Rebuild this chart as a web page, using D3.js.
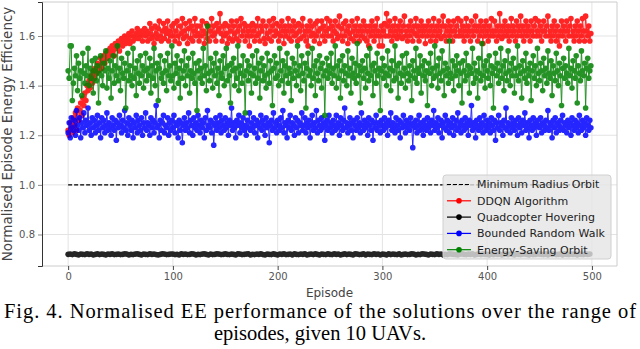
<!DOCTYPE html>
<html lang="en">
<head>
<meta charset="UTF-8">
<title>Normalised EE performance</title>
<script src="https://d3js.org/d3.v7.min.js"></script>
<style>
  body { margin: 0; background: #fff; }
  svg { display: block; }
</style>
</head>
<body>
<svg width="640" height="349"></svg>
<script>
// one value per episode (0 .. 499)
const episodes = d3.range(0, 500);
const hoverEpisodes = d3.range(0, 500, 2);
const minRadiusOrbit = 1.0;

const ddqn = [
  1.22, 1.20, 1.25, 1.23, 1.21, 1.27, 1.24, 1.29, 1.22, 1.31, 1.26, 1.30, 1.33, 1.28, 1.35, 1.32, 1.37, 1.34, 1.40, 1.38, 1.42, 1.39, 1.44, 1.41, 1.46,
  1.43, 1.47, 1.45, 1.49, 1.46, 1.48, 1.51, 1.47, 1.50, 1.52, 1.49, 1.53, 1.51, 1.54, 1.52, 1.55, 1.53, 1.56, 1.54, 1.52, 1.57, 1.55, 1.56, 1.58, 1.54,
  1.57, 1.59, 1.56, 1.58, 1.60, 1.57, 1.59, 1.58, 1.61, 1.57, 1.60, 1.62, 1.58, 1.60, 1.59, 1.61, 1.63, 1.59, 1.61, 1.60, 1.62, 1.58, 1.61, 1.63, 1.60,
  1.62, 1.58, 1.61, 1.65, 1.59, 1.63, 1.60, 1.57, 1.64, 1.61, 1.59, 1.63, 1.66, 1.60, 1.58, 1.62, 1.65, 1.59, 1.63, 1.61, 1.66, 1.58, 1.62, 1.60, 1.64,
  1.60, 1.65, 1.58, 1.62, 1.66, 1.60, 1.57, 1.64, 1.61, 1.67, 1.59, 1.62, 1.65, 1.60, 1.57, 1.63, 1.66, 1.59, 1.64, 1.58, 1.62, 1.67, 1.60, 1.64, 1.61,
  1.58, 1.64, 1.60, 1.66, 1.62, 1.57, 1.61, 1.65, 1.59, 1.64, 1.58, 1.62, 1.67, 1.60, 1.64, 1.61, 1.58, 1.65, 1.62, 1.63, 1.69, 1.61, 1.58, 1.64, 1.60,
  1.65, 1.61, 1.57, 1.64, 1.59, 1.62, 1.66, 1.58, 1.64, 1.61, 1.59, 1.66, 1.62, 1.58, 1.64, 1.67, 1.60, 1.62, 1.65, 1.58, 1.64, 1.60, 1.62, 1.56, 1.64,
  1.60, 1.65, 1.62, 1.58, 1.64, 1.60, 1.67, 1.61, 1.58, 1.64, 1.62, 1.66, 1.59, 1.57, 1.64, 1.61, 1.59, 1.66, 1.62, 1.58, 1.64, 1.67, 1.60, 1.62, 1.65,
  1.61, 1.58, 1.64, 1.60, 1.66, 1.62, 1.57, 1.64, 1.60, 1.62, 1.67, 1.59, 1.64, 1.58, 1.62, 1.66, 1.60, 1.64, 1.61, 1.58, 1.65, 1.62, 1.59, 1.64, 1.67,
  1.60, 1.62, 1.58, 1.64, 1.56, 1.62, 1.66, 1.60, 1.64, 1.61, 1.58, 1.65, 1.60, 1.66, 1.62, 1.57, 1.63, 1.66, 1.60, 1.64, 1.58, 1.62, 1.67, 1.60, 1.63,
  1.66, 1.60, 1.64, 1.58, 1.62, 1.66, 1.61, 1.59, 1.64, 1.68, 1.60, 1.63, 1.58, 1.65, 1.60, 1.66, 1.62, 1.57, 1.64, 1.61, 1.59, 1.66, 1.62, 1.58, 1.64,
  1.60, 1.67, 1.62, 1.58, 1.64, 1.60, 1.62, 1.66, 1.59, 1.64, 1.58, 1.62, 1.56, 1.64, 1.60, 1.66, 1.62, 1.58, 1.64, 1.60, 1.67, 1.62, 1.56, 1.60, 1.64,
  1.56, 1.62, 1.65, 1.60, 1.69, 1.64, 1.60, 1.66, 1.62, 1.58, 1.64, 1.60, 1.67, 1.62, 1.59, 1.64, 1.60, 1.66, 1.62, 1.59, 1.64, 1.68, 1.60, 1.62, 1.58,
  1.64, 1.60, 1.66, 1.62, 1.58, 1.64, 1.61, 1.67, 1.60, 1.64, 1.58, 1.62, 1.66, 1.60, 1.64, 1.62, 1.57, 1.64, 1.60, 1.66, 1.62, 1.58, 1.64, 1.60, 1.67,
  1.62, 1.58, 1.64, 1.60, 1.66, 1.62, 1.59, 1.64, 1.68, 1.60, 1.64, 1.58, 1.62, 1.66, 1.60, 1.64, 1.62, 1.58, 1.66, 1.62, 1.60, 1.64, 1.67, 1.60, 1.62,
  1.66, 1.60, 1.64, 1.58, 1.62, 1.67, 1.60, 1.64, 1.62, 1.58, 1.66, 1.62, 1.60, 1.64, 1.68, 1.62, 1.58, 1.64, 1.60, 1.66, 1.62, 1.57, 1.64, 1.60, 1.66,
  1.62, 1.58, 1.64, 1.60, 1.67, 1.62, 1.60, 1.66, 1.62, 1.58, 1.64, 1.60, 1.69, 1.62, 1.59, 1.64, 1.60, 1.66, 1.62, 1.60, 1.64, 1.58, 1.62, 1.67, 1.60,
  1.64, 1.62, 1.58, 1.66, 1.60, 1.64, 1.62, 1.68, 1.60, 1.64, 1.58, 1.62, 1.66, 1.60, 1.64, 1.62, 1.58, 1.66, 1.62, 1.60, 1.64, 1.67, 1.60, 1.62, 1.66,
  1.60, 1.64, 1.58, 1.62, 1.66, 1.62, 1.60, 1.64, 1.68, 1.60, 1.62, 1.58, 1.64, 1.60, 1.66, 1.62, 1.58, 1.64, 1.60, 1.56, 1.62, 1.66, 1.60, 1.64, 1.62,
  1.58, 1.66, 1.62, 1.60, 1.64, 1.67, 1.60, 1.62, 1.58, 1.64, 1.60, 1.66, 1.62, 1.58, 1.64, 1.60, 1.67, 1.62, 1.58, 1.68, 1.62, 1.60, 1.64, 1.58, 1.61
];

const hovering = [
  0.720, 0.721, 0.719, 0.722, 0.720, 0.718, 0.721, 0.720, 0.719, 0.722, 0.720, 0.721, 0.718, 0.720, 0.722, 0.719, 0.721, 0.720, 0.718, 0.721, 0.720, 0.722, 0.719, 0.720, 0.721,
  0.719, 0.720, 0.722, 0.721, 0.718, 0.720, 0.719, 0.721, 0.722, 0.720, 0.718, 0.721, 0.720, 0.719, 0.722, 0.720, 0.721, 0.719, 0.718, 0.720, 0.722, 0.721, 0.719, 0.720, 0.721,
  0.721, 0.719, 0.720, 0.718, 0.722, 0.720, 0.721, 0.719, 0.720, 0.722, 0.721, 0.718, 0.720, 0.719, 0.721, 0.722, 0.720, 0.718, 0.721, 0.719, 0.720, 0.722, 0.721, 0.719, 0.720,
  0.722, 0.720, 0.719, 0.721, 0.720, 0.718, 0.722, 0.721, 0.719, 0.720, 0.721, 0.722, 0.718, 0.720, 0.719, 0.721, 0.720, 0.722, 0.719, 0.718, 0.721, 0.720, 0.719, 0.722, 0.720,
  0.718, 0.721, 0.720, 0.722, 0.719, 0.720, 0.721, 0.718, 0.722, 0.720, 0.719, 0.721, 0.720, 0.722, 0.718, 0.720, 0.721, 0.719, 0.722, 0.720, 0.718, 0.721, 0.720, 0.719, 0.722,
  0.720, 0.719, 0.722, 0.720, 0.721, 0.718, 0.720, 0.722, 0.719, 0.721, 0.720, 0.718, 0.722, 0.721, 0.719, 0.720, 0.722, 0.718, 0.721, 0.720, 0.719, 0.722, 0.720, 0.721, 0.718,
  0.721, 0.720, 0.718, 0.722, 0.719, 0.721, 0.720, 0.719, 0.722, 0.718, 0.720, 0.721, 0.719, 0.720, 0.722, 0.721, 0.718, 0.720, 0.719, 0.722, 0.721, 0.720, 0.718, 0.721, 0.720,
  0.719, 0.722, 0.720, 0.721, 0.718, 0.720, 0.719, 0.722, 0.721, 0.720, 0.719, 0.718, 0.721, 0.722, 0.720, 0.719, 0.721, 0.720, 0.722, 0.718, 0.720, 0.721, 0.719, 0.722, 0.720,
  0.720, 0.718, 0.721, 0.719, 0.722, 0.720, 0.721, 0.718, 0.720, 0.722, 0.719, 0.721, 0.720, 0.718, 0.722, 0.720, 0.719, 0.721, 0.722, 0.720, 0.718, 0.721, 0.719, 0.720, 0.722,
  0.721, 0.720, 0.719, 0.722, 0.718, 0.721, 0.720, 0.722, 0.719, 0.720, 0.721, 0.718, 0.722, 0.720, 0.719, 0.721, 0.720, 0.722, 0.718, 0.721, 0.720, 0.719, 0.722, 0.720, 0.721
];

const randomWalk = [
  1.21, 1.25, 1.19, 1.27, 1.23, 1.22, 1.26, 1.20, 1.30, 1.24, 1.22, 1.27, 1.19, 1.25, 1.23, 1.29, 1.21, 1.26, 1.24, 1.31, 1.22, 1.25, 1.20, 1.27, 1.23,
  1.26, 1.21, 1.24, 1.28, 1.22, 1.25, 1.19, 1.27, 1.23, 1.26, 1.21, 1.24, 1.29, 1.22, 1.25, 1.23, 1.20, 1.27, 1.24, 1.22, 1.26, 1.18, 1.25, 1.23, 1.28,
  1.24, 1.21, 1.26, 1.23, 1.30, 1.22, 1.25, 1.20, 1.27, 1.24, 1.22, 1.26, 1.19, 1.25, 1.23, 1.28, 1.21, 1.26, 1.24, 1.22, 1.27, 1.20, 1.25, 1.23, 1.29,
  1.22, 1.25, 1.24, 1.20, 1.27, 1.23, 1.26, 1.21, 1.25, 1.32, 1.23, 1.24, 1.19, 1.26, 1.22, 1.25, 1.28, 1.21, 1.24, 1.23, 1.27, 1.20, 1.25, 1.22, 1.26,
  1.23, 1.28, 1.21, 1.25, 1.24, 1.19, 1.26, 1.22, 1.25, 1.17, 1.24, 1.27, 1.22, 1.25, 1.23, 1.29, 1.21, 1.26, 1.24, 1.20, 1.27, 1.23, 1.25, 1.22, 1.28,
  1.24, 1.21, 1.26, 1.23, 1.25, 1.19, 1.27, 1.22, 1.30, 1.24, 1.23, 1.26, 1.21, 1.25, 1.16, 1.24, 1.27, 1.22, 1.25, 1.23, 1.28, 1.21, 1.26, 1.24, 1.22,
  1.27, 1.23, 1.25, 1.20, 1.26, 1.24, 1.31, 1.22, 1.25, 1.23, 1.19, 1.26, 1.24, 1.28, 1.21, 1.25, 1.23, 1.27, 1.22, 1.24, 1.20, 1.26, 1.23, 1.29, 1.22,
  1.25, 1.23, 1.27, 1.21, 1.24, 1.26, 1.19, 1.25, 1.23, 1.28, 1.22, 1.26, 1.24, 1.20, 1.27, 1.23, 1.25, 1.17, 1.24, 1.26, 1.22, 1.29, 1.23, 1.25, 1.21,
  1.26, 1.24, 1.22, 1.27, 1.23, 1.30, 1.21, 1.25, 1.24, 1.19, 1.26, 1.23, 1.28, 1.22, 1.25, 1.24, 1.20, 1.27, 1.23, 1.26, 1.21, 1.25, 1.24, 1.29, 1.22,
  1.24, 1.27, 1.21, 1.25, 1.23, 1.26, 1.19, 1.24, 1.28, 1.22, 1.25, 1.23, 1.30, 1.21, 1.26, 1.24, 1.22, 1.27, 1.23, 1.25, 1.18, 1.24, 1.26, 1.22, 1.28,
  1.23, 1.25, 1.21, 1.26, 1.24, 1.22, 1.28, 1.23, 1.25, 1.20, 1.27, 1.24, 1.22, 1.26, 1.31, 1.23, 1.25, 1.21, 1.24, 1.27, 1.22, 1.25, 1.19, 1.26, 1.24,
  1.22, 1.27, 1.23, 1.25, 1.21, 1.29, 1.24, 1.22, 1.26, 1.23, 1.25, 1.20, 1.27, 1.24, 1.22, 1.26, 1.18, 1.25, 1.23, 1.28, 1.22, 1.25, 1.24, 1.21, 1.26,
  1.24, 1.22, 1.27, 1.23, 1.25, 1.20, 1.26, 1.24, 1.29, 1.22, 1.25, 1.23, 1.21, 1.27, 1.24, 1.22, 1.26, 1.19, 1.25, 1.23, 1.28, 1.24, 1.21, 1.26, 1.23,
  1.25, 1.22, 1.27, 1.24, 1.15, 1.25, 1.23, 1.26, 1.21, 1.24, 1.28, 1.22, 1.25, 1.23, 1.20, 1.26, 1.24, 1.22, 1.27, 1.23, 1.25, 1.21, 1.26, 1.24, 1.30,
  1.22, 1.25, 1.23, 1.27, 1.21, 1.24, 1.26, 1.19, 1.25, 1.23, 1.28, 1.22, 1.26, 1.24, 1.21, 1.25, 1.23, 1.27, 1.20, 1.24, 1.26, 1.22, 1.29, 1.23, 1.25,
  1.21, 1.26, 1.24, 1.22, 1.27, 1.23, 1.25, 1.20, 1.26, 1.24, 1.32, 1.22, 1.25, 1.23, 1.19, 1.26, 1.24, 1.22, 1.27, 1.23, 1.25, 1.21, 1.28, 1.24, 1.22,
  1.26, 1.23, 1.25, 1.21, 1.27, 1.24, 1.22, 1.26, 1.18, 1.25, 1.23, 1.28, 1.22, 1.25, 1.24, 1.20, 1.26, 1.23, 1.31, 1.22, 1.25, 1.24, 1.21, 1.27, 1.23,
  1.25, 1.22, 1.26, 1.24, 1.20, 1.27, 1.23, 1.25, 1.21, 1.26, 1.24, 1.29, 1.22, 1.25, 1.23, 1.19, 1.26, 1.24, 1.22, 1.27, 1.23, 1.25, 1.20, 1.26, 1.24,
  1.23, 1.27, 1.21, 1.25, 1.24, 1.22, 1.26, 1.23, 1.30, 1.22, 1.25, 1.24, 1.19, 1.26, 1.23, 1.27, 1.21, 1.25, 1.24, 1.22, 1.26, 1.23, 1.28, 1.22, 1.25,
  1.24, 1.21, 1.26, 1.23, 1.25, 1.20, 1.27, 1.24, 1.22, 1.26, 1.23, 1.25, 1.21, 1.28, 1.24, 1.22, 1.26, 1.23, 1.25, 1.20, 1.27, 1.24, 1.22, 1.26, 1.23
];

const energySaving = [
  1.46, 1.43, 1.56, 1.56, 1.34, 1.41, 1.47, 1.44, 1.52, 1.38, 1.49, 1.43, 1.46, 1.36, 1.53, 1.45, 1.41, 1.48, 1.44, 1.55, 1.40, 1.47, 1.43, 1.50, 1.37,
  1.46, 1.51, 1.42, 1.48, 1.33, 1.45, 1.52, 1.44, 1.40, 1.49, 1.46, 1.54, 1.39, 1.47, 1.43, 1.50, 1.35, 1.46, 1.52, 1.41, 1.48, 1.44, 1.56, 1.42, 1.47,
  1.38, 1.51, 1.45, 1.43, 1.49, 1.31, 1.46, 1.53, 1.42, 1.48, 1.44, 1.40, 1.55, 1.43, 1.47, 1.36, 1.50, 1.45, 1.41, 1.52, 1.44, 1.48, 1.39, 1.46, 1.53,
  1.42, 1.47, 1.44, 1.51, 1.37, 1.48, 1.43, 1.55, 1.40, 1.46, 1.49, 1.34, 1.47, 1.52, 1.43, 1.45, 1.41, 1.50, 1.46, 1.38, 1.53, 1.44, 1.48, 1.42, 1.56,
  1.44, 1.39, 1.49, 1.45, 1.52, 1.41, 1.47, 1.35, 1.50, 1.43, 1.46, 1.54, 1.40, 1.48, 1.44, 1.51, 1.37, 1.46, 1.43, 1.53, 1.45, 1.41, 1.49, 1.30, 1.46,
  1.50, 1.43, 1.47, 1.41, 1.55, 1.44, 1.48, 1.38, 1.64, 1.45, 1.42, 1.51, 1.46, 1.39, 1.49, 1.44, 1.53, 1.41, 1.47, 1.36, 1.50, 1.45, 1.43, 1.52, 1.40,
  1.47, 1.55, 1.42, 1.48, 1.44, 1.33, 1.49, 1.46, 1.51, 1.40, 1.47, 1.43, 1.56, 1.38, 1.48, 1.45, 1.41, 1.52, 1.44, 1.29, 1.46, 1.50, 1.42, 1.48, 1.45,
  1.37, 1.52, 1.44, 1.47, 1.41, 1.54, 1.43, 1.49, 1.35, 1.46, 1.51, 1.42, 1.48, 1.44, 1.39, 1.53, 1.45, 1.41, 1.50, 1.46, 1.32, 1.47, 1.52, 1.43, 1.49,
  1.44, 1.40, 1.55, 1.46, 1.42, 1.50, 1.37, 1.48, 1.44, 1.53, 1.41, 1.47, 1.45, 1.34, 1.51, 1.43, 1.49, 1.46, 1.40, 1.56, 1.44, 1.48, 1.38, 1.52, 1.45,
  1.42, 1.49, 1.31, 1.47, 1.53, 1.44, 1.46, 1.40, 1.55, 1.43, 1.48, 1.36, 1.50, 1.45, 1.42, 1.52, 1.47, 1.39, 1.49, 1.44, 1.28, 1.46, 1.51, 1.43, 1.48,
  1.45, 1.53, 1.41, 1.47, 1.44, 1.56, 1.39, 1.48, 1.43, 1.50, 1.35, 1.46, 1.52, 1.42, 1.48, 1.45, 1.40, 1.54, 1.44, 1.47, 1.37, 1.51, 1.45, 1.43, 1.49,
  1.41, 1.57, 1.44, 1.48, 1.33, 1.46, 1.50, 1.43, 1.47, 1.39, 1.52, 1.45, 1.42, 1.55, 1.44, 1.48, 1.36, 1.49, 1.46, 1.41, 1.53, 1.44, 1.47, 1.30, 1.46,
  1.51, 1.43, 1.48, 1.45, 1.40, 1.54, 1.44, 1.47, 1.38, 1.50, 1.46, 1.42, 1.56, 1.43, 1.48, 1.35, 1.49, 1.45, 1.41, 1.52, 1.44, 1.47, 1.39, 1.53, 1.45,
  1.42, 1.48, 1.44, 1.34, 1.50, 1.46, 1.43, 1.55, 1.41, 1.47, 1.45, 1.52, 1.37, 1.48, 1.44, 1.50, 1.42, 1.46, 1.32, 1.49, 1.45, 1.53, 1.40, 1.47, 1.43,
  1.56, 1.44, 1.48, 1.39, 1.51, 1.45, 1.42, 1.54, 1.46, 1.36, 1.49, 1.44, 1.47, 1.41, 1.58, 1.45, 1.43, 1.50, 1.38, 1.48, 1.44, 1.52, 1.46, 1.40, 1.49,
  1.45, 1.33, 1.50, 1.46, 1.42, 1.53, 1.44, 1.48, 1.37, 1.47, 1.45, 1.55, 1.41, 1.49, 1.43, 1.46, 1.35, 1.51, 1.45, 1.42, 1.57, 1.44, 1.48, 1.39, 1.50,
  1.46, 1.43, 1.52, 1.40, 1.48, 1.45, 1.31, 1.47, 1.53, 1.44, 1.49, 1.41, 1.46, 1.55, 1.43, 1.48, 1.38, 1.50, 1.45, 1.42, 1.54, 1.46, 1.40, 1.49, 1.44,
  1.51, 1.37, 1.47, 1.44, 1.56, 1.42, 1.48, 1.45, 1.35, 1.50, 1.46, 1.43, 1.53, 1.41, 1.47, 1.44, 1.49, 1.34, 1.46, 1.52, 1.43, 1.48, 1.40, 1.55, 1.45,
  1.42, 1.49, 1.46, 1.38, 1.51, 1.44, 1.47, 1.41, 1.54, 1.45, 1.43, 1.50, 1.36, 1.48, 1.45, 1.42, 1.53, 1.46, 1.40, 1.49, 1.44, 1.32, 1.47, 1.51, 1.43,
  1.48, 1.45, 1.41, 1.55, 1.44, 1.47, 1.39, 1.50, 1.46, 1.43, 1.52, 1.33, 1.48, 1.45, 1.42, 1.54, 1.46, 1.44, 1.49, 1.31, 1.47, 1.51, 1.43, 1.46, 1.48
];

const xTicks = [0, 100, 200, 300, 400, 500];
const yTicks = [0.8, 1.0, 1.2, 1.4, 1.6];

const series = [
  { name: "DDQN Algorithm", color: "#ff0000", values: ddqn, xs: episodes },
  { name: "Quadcopter Hovering", color: "#000000", values: hovering, xs: hoverEpisodes },
  { name: "Bounded Random Walk", color: "#0000ff", values: randomWalk, xs: episodes },
  { name: "Energy-Saving Orbit", color: "#008000", values: energySaving, xs: episodes }
];

const svg = d3.select("svg");
const plotLeft = 42, plotRight = 617, plotTop = 2, plotBottom = 266;

const x = d3.scaleLinear().domain([-24.95, 523.95]).range([plotLeft, plotRight]);
const y = d3.scaleLinear().domain([0.673, 1.737]).range([plotBottom, plotTop]);

// grid
svg.append("g").selectAll("line").data(xTicks).join("line")
  .attr("x1", d => x(d)).attr("x2", d => x(d))
  .attr("y1", plotTop).attr("y2", plotBottom)
  .attr("stroke", "#e3e3e3").attr("stroke-width", 1);
svg.append("g").selectAll("line").data(yTicks).join("line")
  .attr("x1", plotLeft).attr("x2", plotRight)
  .attr("y1", d => y(d)).attr("y2", d => y(d))
  .attr("stroke", "#e3e3e3").attr("stroke-width", 1);

// light frame on top / right / bottom
svg.append("path")
  .attr("d", `M${plotLeft},${plotTop}H${plotRight}V${plotBottom}H${plotLeft}`)
  .attr("fill", "none").attr("stroke", "#cccccc").attr("stroke-width", 1);

// minimum radius orbit (constant)
svg.append("line")
  .attr("x1", x(0)).attr("x2", x(499))
  .attr("y1", y(minRadiusOrbit)).attr("y2", y(minRadiusOrbit))
  .attr("stroke", "#000").attr("stroke-width", 1.2)
  .attr("stroke-dasharray", "4,2");

series.forEach(s => {
  const line = d3.line().x((d, i) => x(s.xs[i])).y(d => y(d));
  const g = svg.append("g").attr("opacity", 0.85);
  g.append("path")
    .datum(s.values)
    .attr("d", line)
    .attr("fill", "none")
    .attr("stroke", s.color)
    .attr("stroke-width", 1);
  g.selectAll("circle").data(s.values).join("circle")
    .attr("cx", (d, i) => x(s.xs[i]))
    .attr("cy", d => y(d))
    .attr("r", 2.8)
    .attr("fill", s.color);
});

// axes
const xAxis = svg.append("g")
  .attr("transform", `translate(0,${plotBottom})`)
  .call(d3.axisBottom(x).tickValues(xTicks).tickSize(4).tickPadding(3).tickFormat(d3.format("d")));
xAxis.select(".domain").remove();
xAxis.selectAll(".tick line").attr("stroke", "#444");
xAxis.selectAll("text").attr("fill", "#555")
  .style("font-family", "DejaVu Sans").style("font-size", "10px");

const yAxis = svg.append("g")
  .attr("transform", `translate(${plotLeft},0)`)
  .call(d3.axisLeft(y).tickValues(yTicks).tickSize(4).tickPadding(3).tickFormat(d3.format(".1f")));
yAxis.select(".domain").attr("stroke", "#333");
yAxis.selectAll(".tick line").attr("stroke", "#888");
yAxis.selectAll("text").attr("fill", "#555")
  .style("font-family", "DejaVu Sans").style("font-size", "10px");

svg.append("text")
  .attr("x", (plotLeft + plotRight) / 2).attr("y", 297)
  .attr("text-anchor", "middle")
  .attr("fill", "#444")
  .style("font-family", "DejaVu Sans").style("font-size", "12px")
  .text("Episode");

svg.append("text")
  .attr("transform", `translate(12,${(plotTop + plotBottom) / 2}) rotate(-90)`)
  .attr("text-anchor", "middle")
  .attr("fill", "#444")
  .style("font-family", "DejaVu Sans").style("font-size", "13.5px")
  .text("Normalised Episode Energy Efficiency");

// legend
const legendItems = [
  { name: "Minimum Radius Orbit", color: "#000", dashed: true },
  ...series.map(s => ({ name: s.name, color: s.color, dashed: false }))
];
const lg = svg.append("g").attr("transform", "translate(443,175)");
lg.append("rect")
  .attr("width", 168).attr("height", 84).attr("rx", 3)
  .attr("fill", "#e5e5e5").attr("fill-opacity", 0.8)
  .attr("stroke", "#d0d0d0");
const li = lg.selectAll("g.item").data(legendItems).join("g")
  .attr("class", "item")
  .attr("transform", (d, i) => `translate(0,${9.5 + i * 16.3})`);
li.append("line")
  .attr("x1", 4).attr("x2", 28)
  .attr("stroke", d => d.color).attr("stroke-width", 1.2)
  .attr("stroke-dasharray", d => d.dashed ? "4,2" : null);
li.filter(d => !d.dashed).append("circle")
  .attr("cx", 16).attr("r", 2.8).attr("fill", d => d.color);
li.append("text")
  .attr("x", 34).attr("dy", "0.35em")
  .attr("fill", "#222")
  .style("font-family", "DejaVu Sans").style("font-size", "11px")
  .text(d => d.name);

// caption
svg.append("text")
  .attr("x", 4).attr("y", 318)
  .attr("textLength", 632).attr("lengthAdjust", "spacing")
  .style("font-family", "Liberation Serif").style("font-size", "20.5px")
  .attr("fill", "#000")
  .text("Fig. 4.  Normalised EE performance of the solutions over the range of");
svg.append("text")
  .attr("x", 320).attr("y", 340)
  .attr("text-anchor", "middle")
  .style("font-family", "Liberation Serif").style("font-size", "20.5px")
  .attr("fill", "#000")
  .text("episodes, given 10 UAVs.");
</script>
</body>
</html>
